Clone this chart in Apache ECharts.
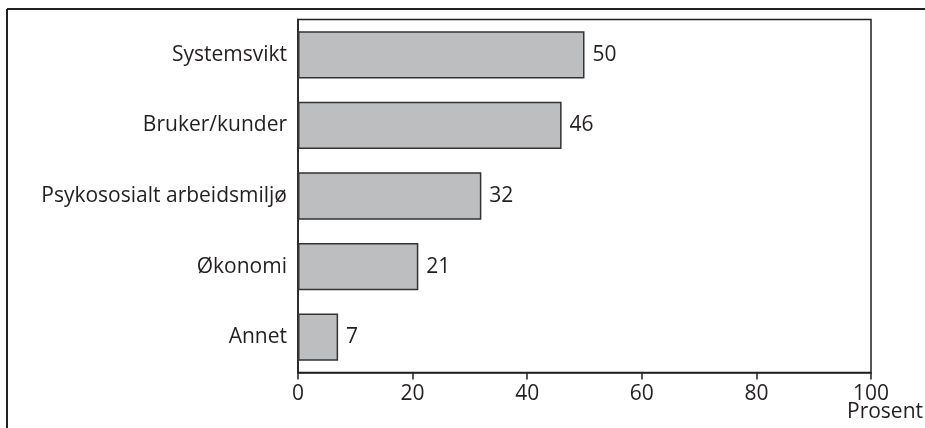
<!DOCTYPE html>
<html>
<head>
<meta charset="utf-8">
<script src="https://cdn.jsdelivr.net/npm/echarts@6/dist/echarts.min.js"></script>
<style>
html,body{margin:0;padding:0;background:#fff;}
#chart{width:925px;height:428px;}
</style>
</head>
<body>
<div id="chart"></div>
<script>
const categories = ["Systemsvikt", "Bruker/kunder", "Psykososialt arbeidsmiljø", "Økonomi", "Annet"];
const values = [50, 46, 32, 21, 7];
const axisName = "Prosent";

const FONT = "Open Sans";
const INK = '#231f20';
const chart = echarts.init(document.getElementById('chart'), null, {renderer: 'canvas'});
chart.setOption({
  animation: false,
  backgroundColor: '#fff',
  textStyle: {fontFamily: FONT},
  graphic: [
    {type: 'line', shape: {x1: 7, y1: 9, x2: 925, y2: 9}, style: {stroke: INK, lineWidth: 2}},
    {type: 'line', shape: {x1: 7, y1: 9, x2: 7, y2: 428}, style: {stroke: INK, lineWidth: 2}}
  ],
  grid: {left: 298, right: 54, top: 19.5, bottom: 55.5, show: true, borderColor: INK, borderWidth: 1.5, containLabel: false, outerBoundsMode: 'none'},
  xAxis: {
    type: 'value', min: 0, max: 100, interval: 20,
    name: axisName, nameLocation: 'end', nameGap: -24, nameMoveOverlap: false,
    nameTextStyle: {fontSize: 21, color: INK, fontFamily: FONT, align: 'left', verticalAlign: 'top', padding: [29, 0, 0, 0]},
    axisLine: {show: true, lineStyle: {color: INK, width: 1.5}},
    axisTick: {show: true, length: 7, lineStyle: {color: INK, width: 1.5}},
    axisLabel: {fontSize: 21, color: INK, fontFamily: FONT, margin: 11},
    splitLine: {show: false}
  },
  yAxis: {
    type: 'category', data: categories, inverse: true,
    axisLine: {show: true, lineStyle: {color: INK, width: 1.5}},
    axisTick: {show: false},
    axisLabel: {fontSize: 21, color: INK, fontFamily: FONT, margin: 11}
  },
  series: [{
    type: 'bar', data: values, barCategoryGap: '33%',
    itemStyle: {color: '#bdbec0', borderColor: '#333', borderWidth: 1.5},
    label: {show: true, position: 'right', distance: 8, fontSize: 21, color: INK, fontFamily: FONT}
  }]
});
</script>
</body>
</html>
